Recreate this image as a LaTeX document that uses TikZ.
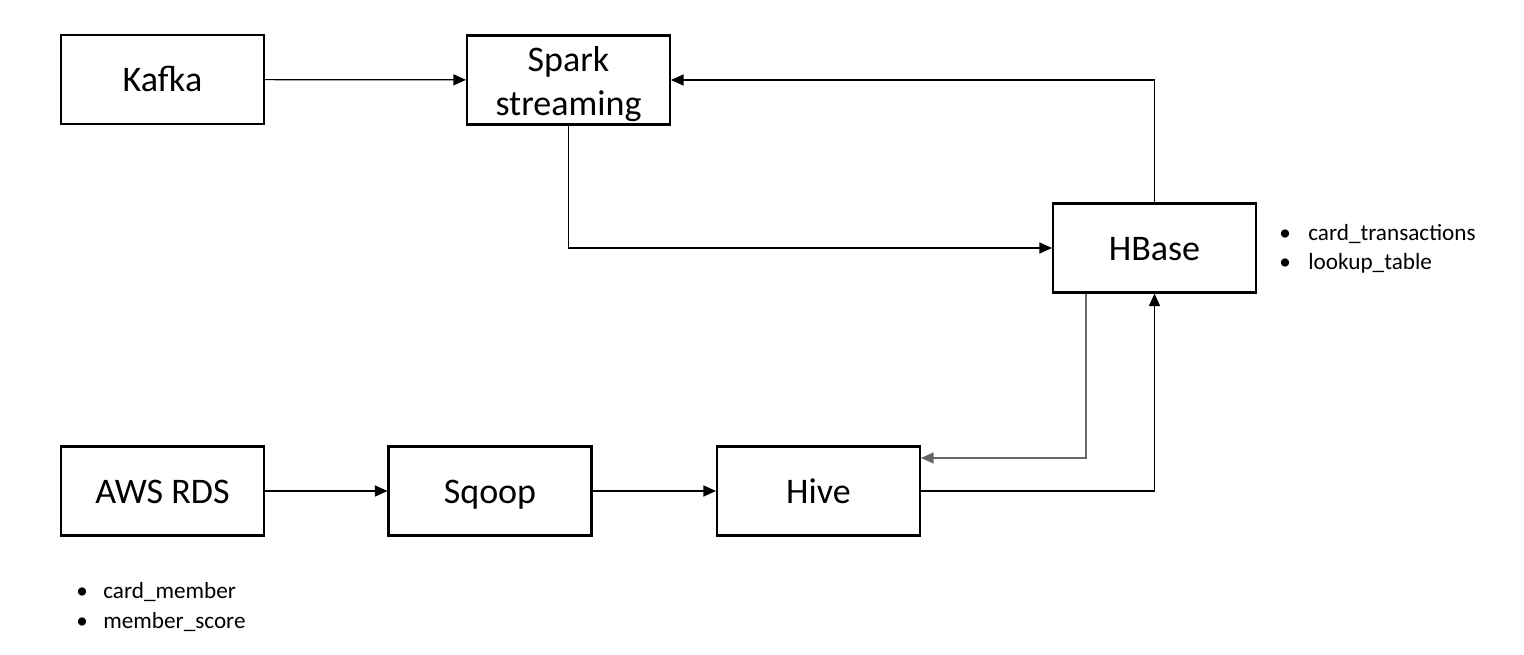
\documentclass[tikz,border=0pt]{standalone}
\usepackage{fontspec}
\setmainfont{Carlito}
\usetikzlibrary{arrows.meta,positioning,calc}

\begin{document}
\begin{tikzpicture}[x=0.02cm,y=-0.02cm,
    stage/.style={draw=black,line width=1.2pt,fill=white,
                  minimum width=4.06cm,minimum height=1.78cm,
                  font=\fontsize{20.5}{25.5}\selectfont,align=center},
    oneline/.style={text height=16.5pt,text depth=2.5pt},
    tablelist/.style={draw=none,inner sep=0pt,anchor=west,
                  font=\fontsize{13.2}{16.6}\selectfont,align=left},
    flow/.style={-{Triangle[length=0.25cm,width=0.22cm]},line width=0.7pt,black},
    flowgray/.style={flow,gray!80!black}]
    \useasboundingbox (0,0) rectangle (1524,655);
    \node[stage,oneline] (kafka)  at (162.5,79.5) {Kafka};
    \node[stage,inner ysep=0pt] (spark) at (568.5,80) {\rule{0pt}{19pt}Spark\\streaming};
    \node[stage,oneline] (hbase)  at (1154.5,248) {HBase};
    \node[stage,oneline] (awsrds) at (162.5,491)  {AWS RDS};
    \node[stage,oneline] (sqoop)  at (490,491)    {Sqoop};
    \node[stage,oneline] (hive)   at (818.5,491)  {Hive};
    \node[tablelist] (hbasetables) at (1279,249)
      {\makebox[0.58cm][l]{\textbullet}card\_transactions\\
       \makebox[0.58cm][l]{\textbullet}lookup\_table};
    \node[tablelist] (rdstables) at (76,607)
      {\makebox[0.54cm][l]{\textbullet}card\_member\\
       \makebox[0.54cm][l]{\textbullet}member\_score};
    \draw[flow] (kafka) -- (spark);
    \draw[flow] (hbase.north) |- (spark.east);
    \draw[flow] (spark.south) |- (hbase.west);
    \draw[flowgray] ($(hbase.south)+(-68.5,0)$) |- ($(hive.east)+(0,-33)$);
    \draw[flow] (hive.east) -| (hbase.south);
    \draw[flow] (awsrds) -- (sqoop);
    \draw[flow] (sqoop) -- (hive);
  \end{tikzpicture}
\end{document}
